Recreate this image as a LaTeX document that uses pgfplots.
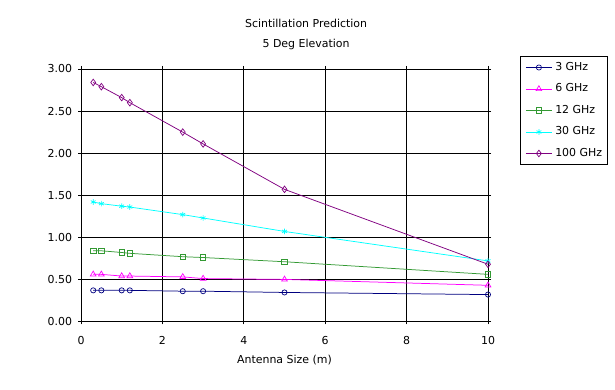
\documentclass[border=0pt]{standalone}
\usepackage{pgfplots}
\pgfplotsset{compat=1.18}
\usepackage{fontspec}
\setmainfont{DejaVu Sans}
\definecolor{c3}{RGB}{0,0,128}
\definecolor{c6}{RGB}{255,0,255}
\definecolor{c12}{RGB}{51,153,51}
\definecolor{c30}{RGB}{0,255,255}
\definecolor{c100}{RGB}{128,0,128}
\newcommand{\ff}{\fontsize{11}{13}\selectfont}
\begin{document}
\ff
\begin{tikzpicture}
\useasboundingbox (0,0) rectangle (615bp,390bp);
\begin{axis}[
  at={(81bp,68.5bp)}, anchor=south west,
  scale only axis, width=407bp, height=252.5bp,
  xmin=0, xmax=10, ymin=0, ymax=3,
  xtick={0,2,4,6,8,10}, ytick={0,0.5,1,1.5,2,2.5,3},
  grid=major, grid style={black, line width=0.75pt},
  axis line style={black, line width=0.75pt},
  tick align=center, major tick length=6bp,
  tick style={black, line width=0.75pt},
  /pgf/number format/assume math mode=true,
  ticklabel style={font=\ff},
  xticklabel style={yshift=-8bp},
  yticklabel style={xshift=-2bp, /pgf/number format/.cd, fixed, fixed zerofill, precision=2},
  xlabel={Antenna Size (m)},
  xlabel style={font=\ff, yshift=-3bp},
  title={Scintillation Prediction\\5 Deg Elevation},
  title style={align=center, at={(rel axis cs:0.553,1)}, yshift=9.5bp, font=\fontsize{11}{20}\selectfont},
  legend style={at={(rel axis cs:1.079,1.051)}, anchor=north west, draw=black, line width=0.75pt,
    font=\ff, row sep=10.5bp, inner xsep=5bp, inner ysep=5.5bp,
    nodes={inner sep=0pt, text height=8.5bp, text depth=2.5bp},
    /tikz/every odd column/.append style={column sep=3bp}},
  legend cell align=left,
  legend image code/.code={\draw[#1] (0bp,0bp) -- (13bp,0bp) (13bp,0bp) -- (26bp,0bp); \draw[#1, only marks] plot coordinates {(13bp,0bp)};},
  every axis plot/.append style={line width=0.75pt, mark options={solid, fill=white, line width=0.7pt}},
]
\addplot[c3, mark=o, mark size=2.6bp] coordinates {(0.3,0.37) (0.5,0.37) (1,0.37) (1.2,0.37) (2.5,0.36) (3,0.36) (5,0.345) (10,0.32)};
\addlegendentry{3 GHz}
\addplot[c6, mark=triangle, mark size=3.3bp] coordinates {(0.3,0.56) (0.5,0.56) (1,0.54) (1.2,0.54) (2.5,0.53) (3,0.51) (5,0.50) (10,0.43)};
\addlegendentry{6 GHz}
\addplot[c12, mark=square, mark size=2.7bp] coordinates {(0.3,0.84) (0.5,0.84) (1,0.82) (1.2,0.81) (2.5,0.77) (3,0.76) (5,0.71) (10,0.56)};
\addlegendentry{12 GHz}
\addplot[c30, mark=asterisk, mark size=2.8bp] coordinates {(0.3,1.42) (0.5,1.40) (1,1.37) (1.2,1.36) (2.5,1.27) (3,1.23) (5,1.07) (10,0.72)};
\addlegendentry{30 GHz}
\addplot[c100, mark=diamond, mark size=3.3bp] coordinates {(0.3,2.84) (0.5,2.79) (1,2.66) (1.2,2.60) (2.5,2.25) (3,2.11) (5,1.57) (10,0.68)};
\addlegendentry{100 GHz}
\end{axis}
\end{tikzpicture}
\end{document}
